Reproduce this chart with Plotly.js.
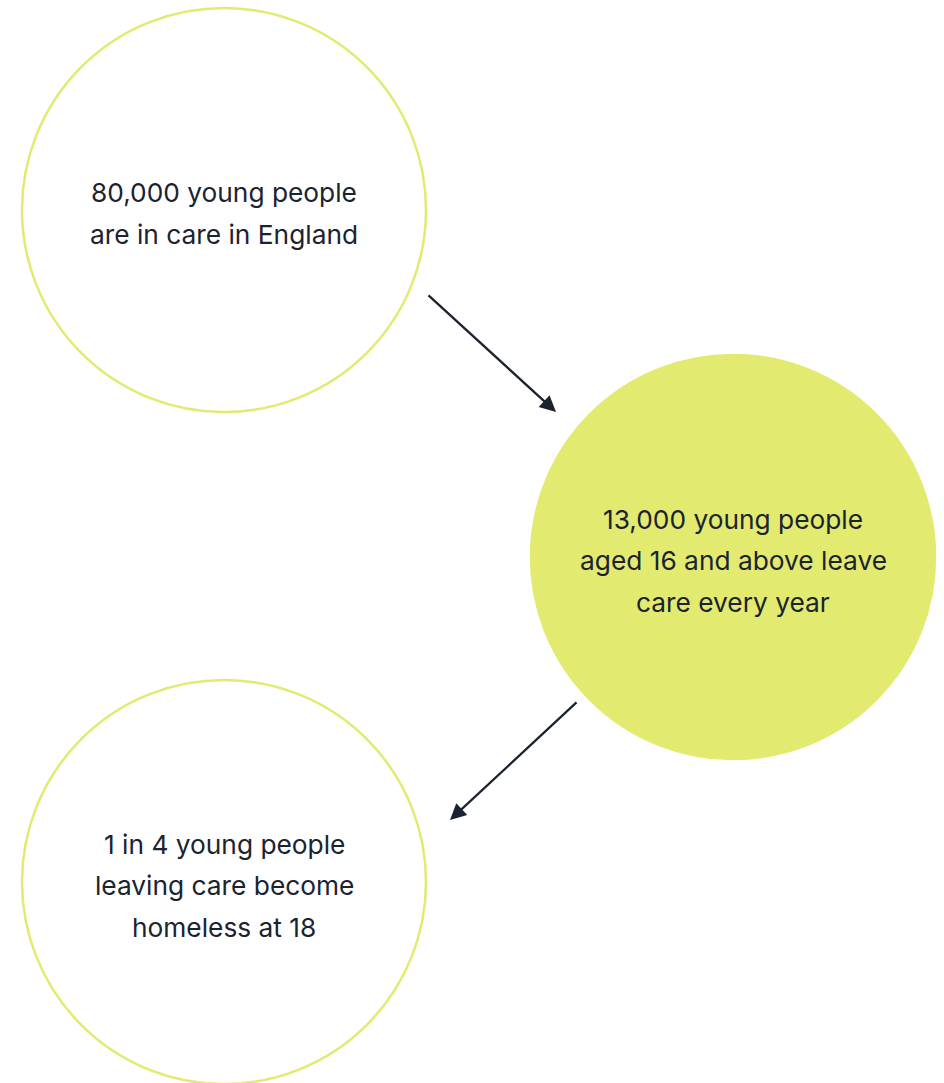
<!DOCTYPE html>
<html><head><meta charset="utf-8">
<script src="https://cdn.plot.ly/plotly-3.0.1.min.js"></script>
<style>html,body{margin:0;padding:0;background:#fff;}#chart{width:944px;height:1083px;}</style>
</head><body><div id="chart"></div>
<script>
// Content
const stepLabels = [
  ["80,000 young people", "are in care in England"],
  ["13,000 young people", "aged 16 and above leave", "care every year"],
  ["1 in 4 young people", "leaving care become", "homeless at 18"]
];
const stepFilled = [false, true, false];

// Layout config (pixel-space diagram)
const W = 944, H = 1083;
const centers = [[224, 210], [733, 557], [224, 882]];
const R = 202;
const arrows = [[[427, 294], [556, 412]], [[578, 701], [450, 820]]];
const lime = '#e2ea70', ink = '#1b2331';
const lineGap = 41.5;

const shapes = [], annotations = [];
stepLabels.forEach((lines, i) => {
  const [cx, cy] = centers[i];
  shapes.push({type:'circle', xref:'x', yref:'y', x0:cx-R, x1:cx+R, y0:cy-R, y1:cy+R,
    line:{color:lime, width:2.5}, fillcolor: stepFilled[i] ? lime : 'rgba(0,0,0,0)', layer:'below'});
  const n = lines.length;
  lines.forEach((t, j) => {
    annotations.push({x:cx, y:cy + (j - (n-1)/2)*lineGap + 3.5, xref:'x', yref:'y', text:t, showarrow:false,
      font:{family:'Inter, "Public Sans", sans-serif', size:26.3, color:ink}, xanchor:'center', yanchor:'middle'});
  });
});
arrows.forEach(([from, to]) => {
  annotations.push({x:to[0], y:to[1], ax:from[0], ay:from[1], xref:'x', yref:'y', axref:'x', ayref:'y',
    text:'', showarrow:true, arrowhead:2, arrowsize:1.4, arrowwidth:2.3, arrowcolor:ink, standoff:0});
});

Plotly.newPlot('chart', [], {
  width:W, height:H, margin:{l:0,r:0,t:0,b:0},
  paper_bgcolor:'#fff', plot_bgcolor:'#fff', showlegend:false,
  xaxis:{range:[0,W], visible:false, fixedrange:true},
  yaxis:{range:[H,0], visible:false, fixedrange:true},
  shapes, annotations
}, {staticPlot:true, displayModeBar:false});
</script></body></html>
